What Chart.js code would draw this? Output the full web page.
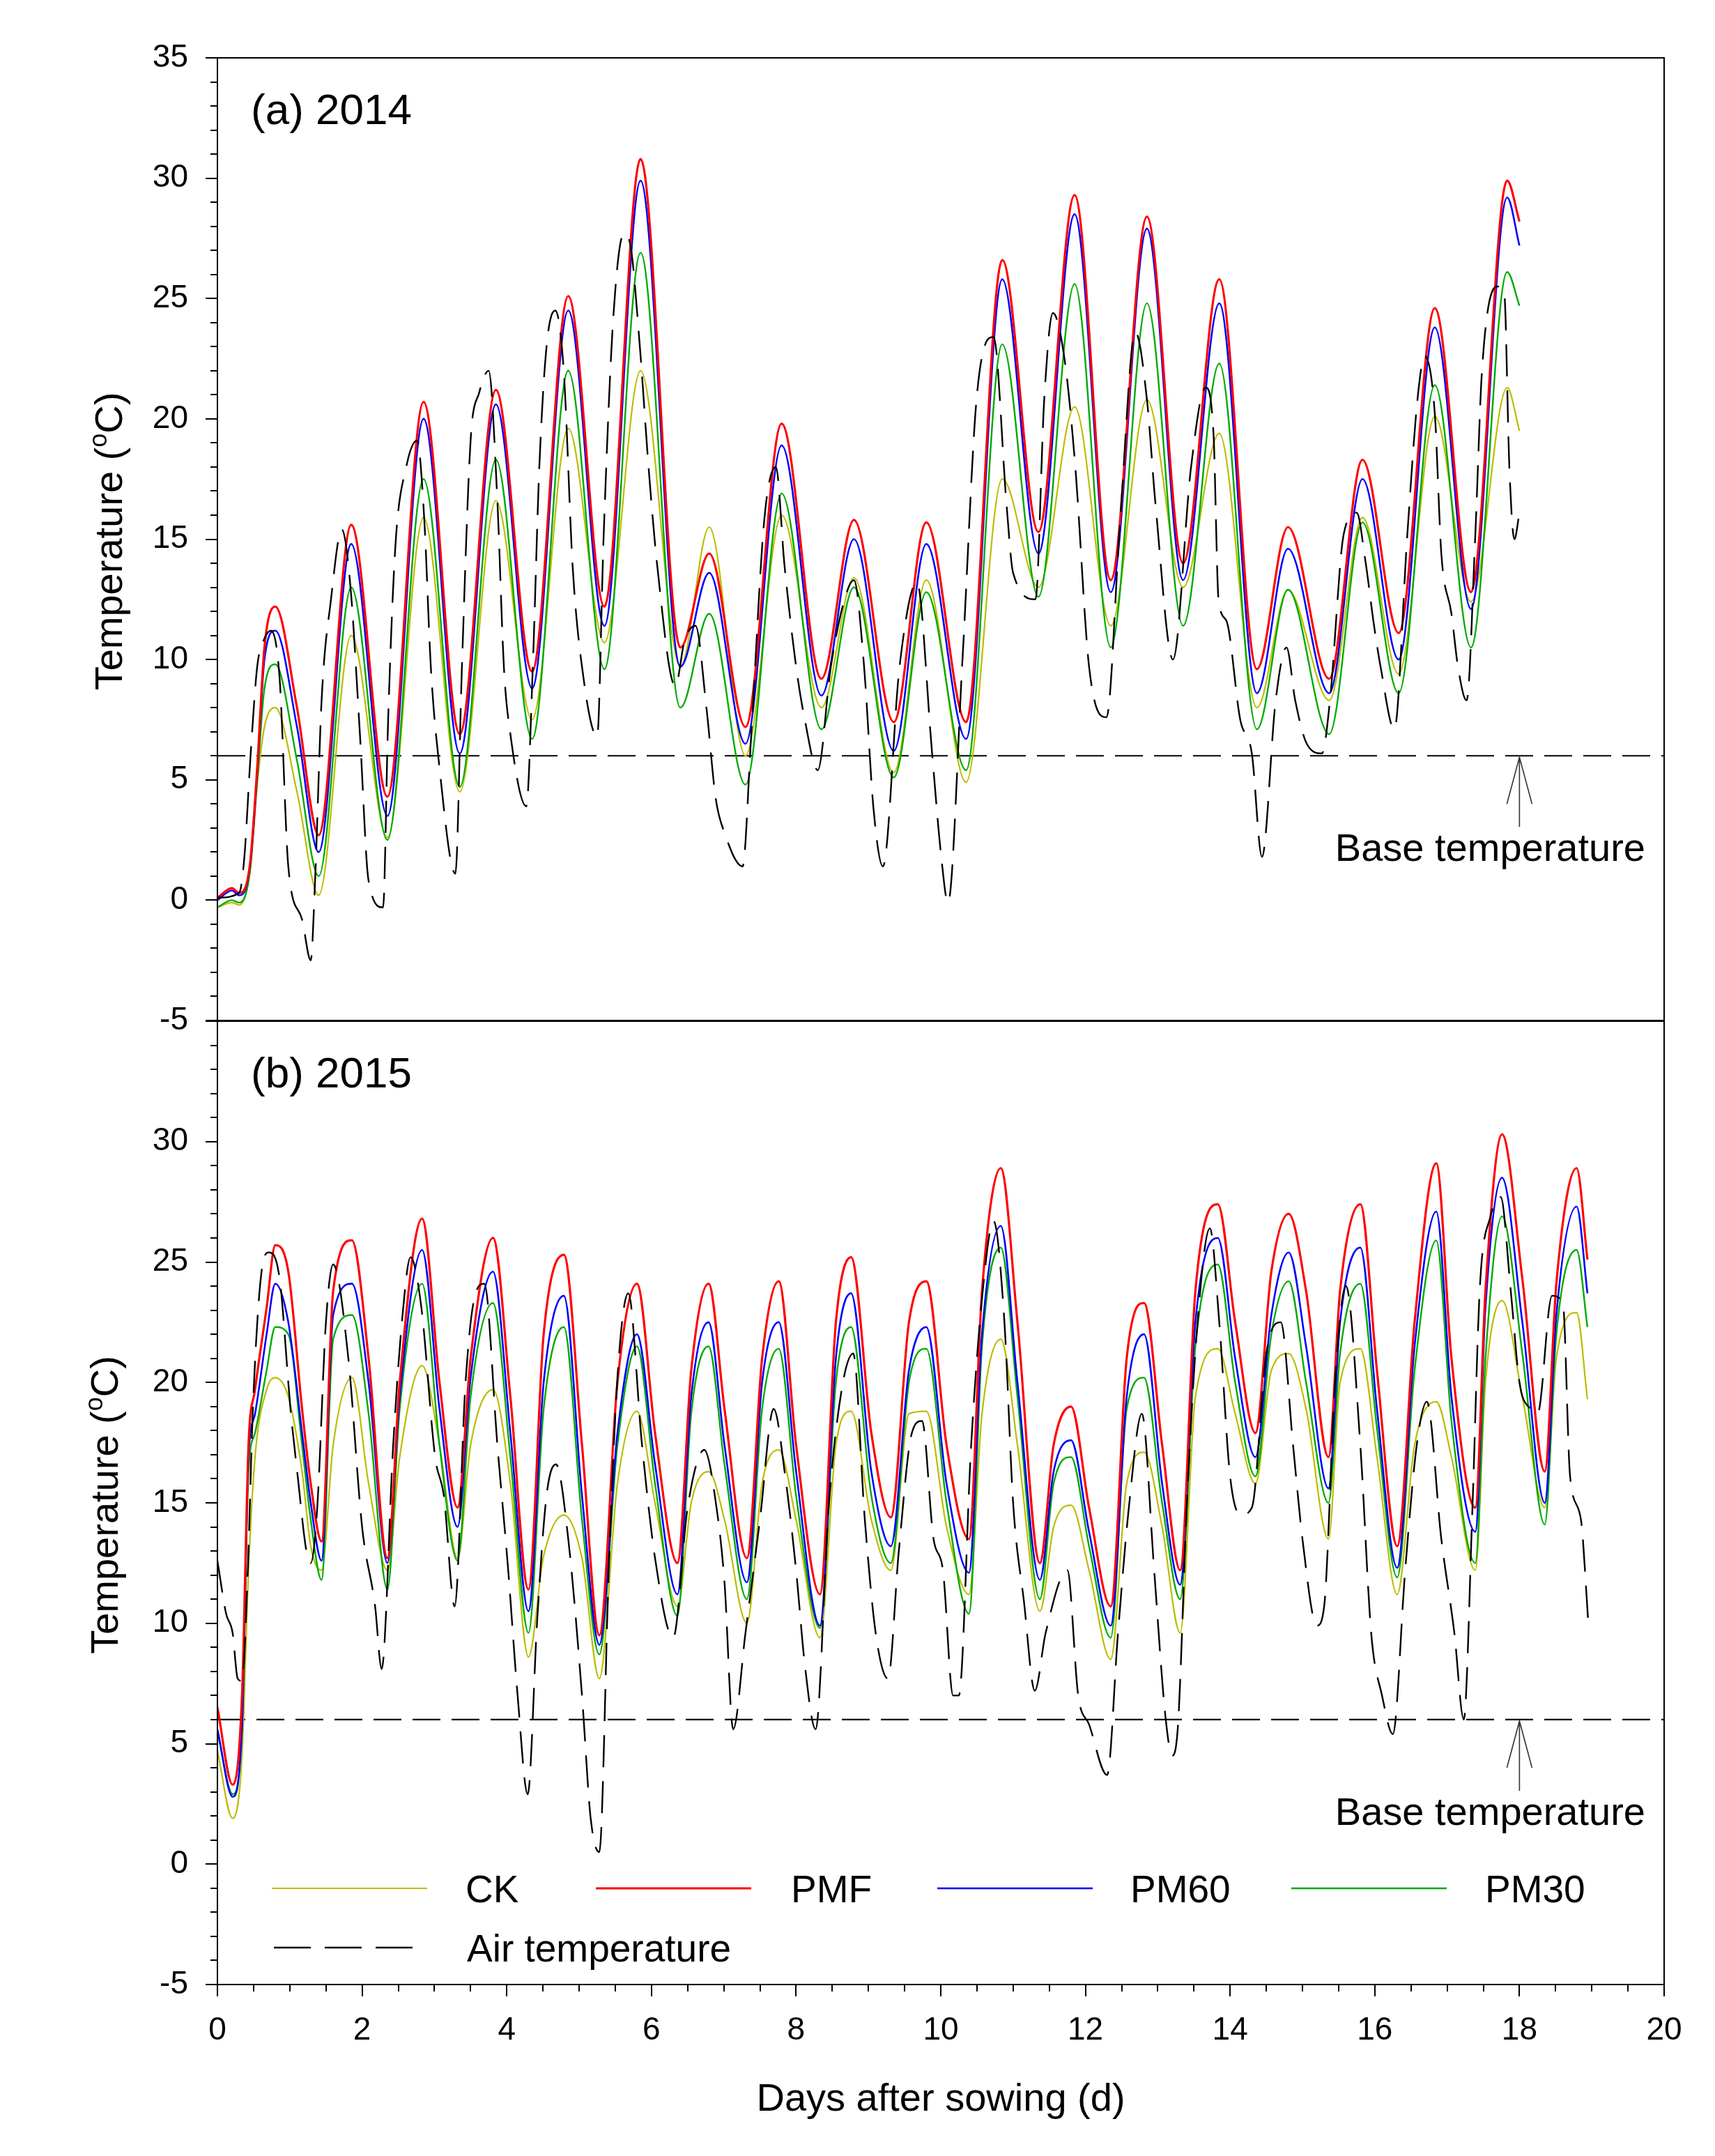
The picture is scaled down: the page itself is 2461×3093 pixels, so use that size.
<!DOCTYPE html>
<html>
<head>
<meta charset="utf-8">
<script src="https://cdn.jsdelivr.net/npm/chart.js@4.4.1/dist/chart.umd.min.js"></script>
<style>
html,body{margin:0;padding:0;background:#fff;}
#wrap{position:relative;width:2461px;height:3093px;background:#fff;overflow:hidden;}
canvas{position:absolute;left:0;}
#c1{top:0;}
#c2{top:1405px;}
</style>
</head>
<body>
<div id="wrap">
<canvas id="c1" width="2461" height="1520"></canvas>
<canvas id="c2" width="2461" height="1688"></canvas>
</div>
<script>
// ---------------- DATA ----------------
const SERIES_LABELS = ['CK', 'PMF', 'PM60', 'PM30', 'Air temperature', 'Base temperature'];
const X_TICK_STEP = 2;
const Y_TICK_STEP = 5;

// (a) 2014 soil temperatures
const SOIL_DAY_2014 = [0, 0.2, 0.3, 0.45, 0.55, 0.65, 0.8, 1.1, 1.4, 1.85,
  2.35, 2.85, 3.35, 3.85, 4.35, 4.85, 5.35, 5.85, 6.4, 6.8,
  7.3, 7.8, 8.35, 8.8, 9.35, 9.8, 10.35, 10.85, 11.35, 11.85,
  12.35, 12.85, 13.35, 13.85, 14.37, 14.8, 15.37, 15.83, 16.33, 16.83,
  17.33, 17.83, 18.0];
const PMF_2014 = [0.1, 0.5, 0.3, 1.5, 5.5, 10.5, 12.2, 8.0, 2.7, 15.6,
  4.3, 20.7, 6.9, 21.2, 9.5, 25.1, 12.2, 30.8, 10.5, 14.4,
  7.2, 19.8, 9.2, 15.8, 7.4, 15.7, 7.4, 26.6, 15.3, 29.3,
  13.3, 28.4, 14.0, 25.8, 9.6, 15.5, 9.2, 18.3, 11.1, 24.6,
  12.8, 29.9, 28.2];
const PM60_2014 = [0.0, 0.4, 0.2, 1.4, 5.3, 10.0, 11.2, 7.2, 2.0, 14.8,
  3.5, 20.0, 6.1, 20.6, 8.8, 24.5, 11.4, 29.9, 9.7, 13.6,
  6.5, 18.9, 8.5, 15.0, 6.2, 14.8, 6.7, 25.8, 14.4, 28.5,
  12.8, 27.9, 13.3, 24.8, 8.6, 14.6, 8.6, 17.5, 10.0, 23.8,
  12.1, 29.2, 27.2];
const PM30_2014 = [-0.3, 0.0, -0.1, 1.2, 5.0, 8.8, 9.8, 5.8, 1.0, 13.0,
  2.5, 17.5, 4.7, 18.3, 6.7, 22.0, 9.6, 26.9, 8.0, 11.9,
  4.8, 16.9, 7.1, 13.0, 5.1, 12.8, 5.4, 23.1, 12.6, 25.6,
  10.5, 24.8, 11.4, 22.3, 7.1, 12.9, 6.9, 15.7, 8.6, 21.4,
  10.5, 26.1, 24.7];
const CK_2014 = [-0.3, -0.1, -0.2, 1.2, 4.8, 7.2, 8.0, 4.5, 0.2, 11.0,
  2.6, 15.9, 4.5, 16.6, 7.5, 19.6, 10.7, 22.0, 9.7, 15.5,
  6.0, 16.0, 8.0, 13.4, 5.3, 13.3, 4.9, 17.5, 13.0, 20.5,
  11.4, 20.8, 13.0, 19.4, 8.0, 12.9, 8.3, 15.9, 9.4, 20.1,
  12.4, 21.3, 19.5];

// (a) 2014 air temperature
const AIR_DAY_2014 = [0, 0.3, 0.37, 0.46, 0.55, 0.64, 0.74, 0.86, 0.98, 1.17,
  1.29, 1.35, 1.44, 1.57, 1.72, 1.84, 1.97, 2.09, 2.29, 2.36,
  2.46, 2.61, 2.76, 2.86, 2.95, 3.07, 3.29, 3.38, 3.5, 3.62,
  3.75, 3.87, 3.96, 4.05, 4.27, 4.36, 4.45, 4.55, 4.67, 4.79,
  4.91, 5.04, 5.25, 5.34, 5.47, 5.62, 5.71, 5.84, 5.96, 6.08,
  6.33, 6.46, 6.61, 6.76, 6.89, 7.01, 7.26, 7.38, 7.56, 7.72,
  7.84, 8.0, 8.12, 8.3, 8.48, 8.67, 8.8, 8.94, 9.07, 9.2,
  9.43, 9.67, 9.88, 10.0, 10.1, 10.3, 10.5, 10.73, 10.91, 11.0,
  11.31, 11.43, 11.55, 11.71, 11.86, 12.05, 12.29, 12.48, 12.69, 12.85,
  12.97, 13.21, 13.46, 13.66, 13.77, 13.84, 13.95, 14.14, 14.3, 14.44,
  14.63, 14.78, 14.9, 15.06, 15.27, 15.38, 15.57, 15.75, 15.87, 15.99,
  16.08, 16.27, 16.45, 16.59, 16.69, 16.83, 16.92, 17.06, 17.15, 17.27,
  17.39, 17.48, 17.69, 17.79, 17.86, 17.93, 18.0];
const AIR_2014 = [0.1, 0.3, 1.7, 6.1, 9.7, 10.8, 11.2, 9.2, 1.4, -0.8,
  -2.5, 0.8, 8.3, 12.5, 15.4, 13.0, 6.9, 0.8, -0.3, 7.5,
  14.7, 18.0, 19.1, 15.8, 9.7, 5.5, 1.1, 9.7, 19.1, 21.1,
  22.0, 16.6, 9.7, 6.9, 3.9, 9.7, 18.0, 23.0, 24.5, 21.9,
  13.9, 9.7, 6.8, 15.2, 24.1, 27.7, 27.2, 23.0, 18.0, 13.9,
  8.9, 10.8, 11.4, 8.0, 4.2, 2.8, 1.4, 6.9, 15.8, 18.0,
  13.9, 9.7, 7.5, 5.4, 9.7, 12.5, 13.3, 9.7, 3.8, 1.4,
  9.7, 13.2, 6.1, 2.0, -0.1, 10.0, 21.0, 23.4, 16.4, 13.6,
  12.5, 20.8, 24.4, 22.5, 18.0, 9.7, 7.6, 15.8, 23.6, 20.8,
  16.4, 10.0, 18.0, 21.3, 19.4, 12.5, 11.6, 7.5, 6.1, 1.8,
  8.3, 10.5, 8.3, 6.5, 6.1, 8.3, 15.2, 16.1, 14.1, 11.4,
  9.7, 7.1, 15.2, 20.8, 22.6, 20.2, 14.4, 11.9, 9.7, 8.3,
  15.2, 21.9, 25.5, 25.2, 18.0, 15.0, 16.1];

// (b) 2015 soil temperatures
const SOIL_DAY_2015 = [0, 0.21, 0.34, 0.43, 0.52, 0.68, 0.8, 0.98, 1.17, 1.29,
  1.44, 1.6, 1.86, 2.09, 2.35, 2.52, 2.83, 3.07, 3.32, 3.5,
  3.81, 4.05, 4.3, 4.51, 4.79, 5.04, 5.28, 5.53, 5.8, 6.05,
  6.36, 6.55, 6.79, 7.01, 7.32, 7.53, 7.76, 8.0, 8.33, 8.55,
  8.76, 9.04, 9.31, 9.56, 9.8, 10.08, 10.39, 10.57, 10.83, 11.06,
  11.37, 11.56, 11.8, 12.05, 12.35, 12.57, 12.81, 13.06, 13.31, 13.52,
  13.83, 14.07, 14.35, 14.57, 14.81, 15.05, 15.36, 15.52, 15.8, 16.03,
  16.31, 16.55, 16.85, 17.06, 17.39, 17.53, 17.76, 18.04, 18.35, 18.51,
  18.79, 18.94];
const PMF_2015 = [6.5, 3.3, 7.0, 17.4, 19.7, 23.1, 25.7, 24.6, 18.9, 15.8,
  13.4, 23.8, 25.9, 21.0, 12.7, 20.0, 26.8, 20.0, 14.8, 21.0,
  26.0, 19.4, 11.4, 22.0, 25.3, 17.4, 9.5, 20.0, 24.1, 17.9,
  12.5, 20.5, 24.1, 18.9, 12.7, 21.0, 24.2, 17.4, 11.2, 22.5,
  25.2, 17.9, 14.4, 22.5, 24.2, 17.4, 13.5, 23.8, 28.9, 22.5,
  12.5, 17.4, 19.0, 14.8, 10.7, 21.0, 23.3, 17.4, 12.2, 23.8,
  27.4, 22.5, 17.9, 24.6, 27.0, 23.8, 16.9, 23.8, 27.4, 20.5,
  13.2, 22.5, 29.1, 21.0, 14.8, 23.8, 30.3, 24.3, 16.3, 24.1,
  28.9, 25.1];
const PM60_2015 = [5.6, 2.8, 5.7, 16.9, 18.7, 22.0, 24.1, 22.5, 17.9, 15.0,
  12.6, 22.8, 24.1, 20.0, 12.5, 19.4, 25.5, 18.9, 14.0, 20.2,
  24.6, 17.9, 10.5, 20.0, 23.6, 15.3, 9.1, 17.9, 22.0, 16.6,
  11.2, 19.4, 22.5, 17.4, 11.7, 20.0, 22.5, 16.3, 9.9, 21.0,
  23.7, 16.3, 13.2, 20.5, 22.3, 15.8, 12.1, 22.0, 26.5, 20.0,
  11.8, 16.3, 17.6, 13.8, 9.9, 19.4, 22.0, 15.8, 11.6, 22.5,
  26.0, 21.0, 16.9, 22.8, 25.4, 21.5, 15.6, 22.5, 25.6, 18.9,
  12.3, 21.5, 27.1, 19.4, 13.8, 23.1, 28.5, 22.5, 15.0, 22.8,
  27.3, 23.7];
const PM30_2015 = [5.5, 2.9, 5.7, 16.3, 17.9, 20.5, 22.3, 22.0, 17.4, 14.3,
  11.8, 21.8, 22.8, 18.7, 11.4, 18.9, 24.1, 17.4, 12.6, 19.4,
  23.3, 16.9, 9.6, 18.9, 22.3, 14.3, 8.7, 17.4, 21.5, 15.8,
  10.3, 18.7, 21.5, 16.6, 11.0, 18.9, 21.4, 15.3, 9.8, 20.0,
  22.3, 15.3, 12.5, 20.0, 21.4, 15.0, 10.4, 21.5, 25.6, 19.4,
  11.0, 15.8, 16.9, 13.2, 9.4, 18.9, 20.2, 15.0, 11.0, 21.5,
  24.9, 20.0, 16.1, 22.0, 24.2, 20.0, 15.0, 21.2, 24.1, 18.1,
  11.9, 20.5, 25.9, 18.4, 12.5, 21.0, 26.9, 21.2, 14.1, 22.0,
  25.5, 22.3];
const CK_2015 = [4.7, 1.9, 4.5, 12.2, 16.9, 19.7, 20.2, 19.4, 16.3, 13.2,
  12.2, 17.4, 20.2, 15.8, 12.2, 16.9, 20.7, 17.4, 12.7, 17.4,
  19.7, 15.8, 8.6, 12.8, 14.5, 12.7, 7.7, 15.8, 18.8, 15.0,
  10.7, 15.0, 16.3, 14.3, 10.0, 15.8, 17.2, 14.3, 9.4, 17.4,
  18.8, 14.3, 12.2, 18.7, 18.8, 14.0, 11.2, 18.7, 21.8, 17.4,
  10.5, 14.0, 14.9, 12.2, 8.5, 15.8, 17.1, 14.0, 9.6, 19.4,
  21.4, 18.7, 15.8, 20.5, 21.2, 18.9, 13.5, 20.0, 21.4, 16.9,
  11.2, 17.4, 19.2, 16.9, 12.2, 20.0, 23.4, 19.4, 14.8, 21.0,
  22.9, 19.3];

// (b) 2015 air temperature
const AIR_DAY_2015 = [0, 0.12, 0.21, 0.28, 0.34, 0.42, 0.49, 0.61, 0.71, 0.86,
  1.01, 1.11, 1.23, 1.29, 1.38, 1.5, 1.6, 1.81, 2.0, 2.18,
  2.27, 2.43, 2.55, 2.67, 2.82, 3.01, 3.13, 3.28, 3.43, 3.56,
  3.69, 3.87, 4.02, 4.15, 4.29, 4.42, 4.55, 4.68, 4.85, 5.04,
  5.16, 5.28, 5.41, 5.53, 5.68, 5.87, 6.05, 6.3, 6.5, 6.73,
  6.9, 7.01, 7.13, 7.3, 7.5, 7.69, 7.85, 8.0, 8.12, 8.27,
  8.45, 8.63, 8.79, 8.95, 9.1, 9.27, 9.42, 9.6, 9.74, 9.9,
  10.03, 10.17, 10.25, 10.42, 10.58, 10.73, 10.88, 11.0, 11.15, 11.3,
  11.45, 11.75, 11.9, 12.05, 12.3, 12.45, 12.6, 12.78, 12.95, 13.1,
  13.2, 13.28, 13.4, 13.55, 13.72, 13.85, 14.0, 14.15, 14.3, 14.5,
  14.7, 14.87, 15.0, 15.2, 15.3, 15.45, 15.6, 15.8, 15.95, 16.1,
  16.25, 16.42, 16.58, 16.72, 16.92, 17.1, 17.23, 17.35, 17.45, 17.6,
  17.74, 17.88, 18.0, 18.15, 18.25, 18.45, 18.6, 18.7, 18.85, 18.95];
const AIR_2015 = [12.6, 10.4, 9.6, 7.7, 7.6, 12.2, 18.9, 24.6, 25.4, 24.3,
  18.9, 16.1, 13.0, 12.5, 14.8, 22.5, 24.9, 21.0, 14.0, 10.7,
  8.1, 17.4, 22.5, 25.2, 23.1, 16.9, 15.3, 10.7, 20.0, 23.6,
  24.1, 17.4, 12.2, 7.0, 2.9, 10.1, 15.3, 16.6, 13.5, 7.0,
  1.9, 0.5, 12.2, 20.2, 23.7, 17.4, 12.7, 9.4, 14.8, 17.2,
  14.8, 11.7, 5.6, 9.6, 14.3, 18.9, 16.1, 12.2, 8.3, 5.6,
  14.8, 19.7, 21.2, 14.3, 9.6, 7.7, 13.0, 17.9, 18.4, 13.5,
  12.2, 7.0, 7.0, 17.4, 23.8, 26.7, 22.5, 15.0, 10.9, 7.2,
  9.6, 12.2, 7.0, 5.8, 3.7, 9.6, 14.8, 18.7, 12.2, 6.3,
  4.5, 5.8, 14.8, 22.5, 26.4, 22.5, 16.1, 14.5, 14.8, 21.2,
  22.5, 17.4, 13.5, 9.9, 10.7, 20.0, 24.0, 17.4, 9.6, 7.0,
  5.4, 12.2, 17.4, 19.2, 13.5, 9.6, 6.0, 14.8, 23.8, 26.9,
  27.7, 23.8, 20.0, 18.9, 18.7, 23.6, 23.3, 16.1, 14.3, 10.1];

// Base temperature reference line
const BASE_DAY = [0, 20];
const BASE_TEMP = [6, 6];
const ARROW_DAY = 18;

// ---------------- STYLE ----------------
const FONT = "'Liberation Sans', Arial, Helvetica, sans-serif";
const COLORS = { CK: '#bcbc00', PMF: '#ff0000', PM60: '#0000ff', PM30: '#00aa00', AIR: '#000000' };

function pts(xs, ys) { return xs.map((x, i) => ({ x: x, y: ys[i] })); }

function makeDatasets(soilDay, ck, pmf, pm60, pm30, airDay, air) {
  const common = { pointRadius: 0, pointHoverRadius: 0, fill: false, tension: 0.4,
    cubicInterpolationMode: 'monotone', borderJoinStyle: 'round', borderCapStyle: 'butt' };
  return [
    Object.assign({ label: SERIES_LABELS[0], data: pts(soilDay, ck), borderColor: COLORS.CK, borderWidth: 2.2, order: 4 }, common),
    Object.assign({ label: SERIES_LABELS[1], data: pts(soilDay, pmf), borderColor: COLORS.PMF, borderWidth: 3.2, order: 1 }, common),
    Object.assign({ label: SERIES_LABELS[2], data: pts(soilDay, pm60), borderColor: COLORS.PM60, borderWidth: 2.6, order: 2 }, common),
    Object.assign({ label: SERIES_LABELS[3], data: pts(soilDay, pm30), borderColor: COLORS.PM30, borderWidth: 2.4, order: 3 }, common),
    Object.assign({}, common, { label: SERIES_LABELS[4], data: pts(airDay, air), borderColor: COLORS.AIR, borderWidth: 2.4, borderDash: [46, 20], order: 0 }),
    Object.assign({}, common, { label: SERIES_LABELS[5], data: pts(BASE_DAY, BASE_TEMP), borderColor: '#000', borderWidth: 2.2,
      borderDash: [40, 16], order: 5, tension: 0, cubicInterpolationMode: 'default' })
  ];
}

// ---------------- PLUGINS ----------------
const framePlugin = {
  id: 'frame',
  afterDraw(chart, args, opts) {
    const { ctx, chartArea: a, scales } = chart;
    ctx.save();
    ctx.strokeStyle = '#000';
    ctx.lineWidth = 2;
    ctx.strokeRect(a.left, a.top, a.right - a.left, a.bottom - a.top);
    ctx.beginPath();
    const y = scales.y;
    for (let v = y.min; v <= y.max; v += 1) {
      if (v % Y_TICK_STEP === 0) continue;
      const py = Math.round(y.getPixelForValue(v));
      ctx.moveTo(a.left - 10, py); ctx.lineTo(a.left, py);
    }
    if (opts.xMinor) {
      const x = scales.x;
      for (let v = x.min; v <= x.max; v += 0.5) {
        if (v % X_TICK_STEP === 0) continue;
        const px = Math.round(x.getPixelForValue(v));
        ctx.moveTo(px, a.bottom); ctx.lineTo(px, a.bottom + 10);
      }
    }
    ctx.stroke();
    ctx.restore();
  }
};

const annotPlugin = {
  id: 'annot',
  afterDraw(chart, args, o) {
    const { ctx, chartArea: a, scales } = chart;
    ctx.save();
    ctx.fillStyle = '#000';
    // panel label
    ctx.font = '62px ' + FONT;
    ctx.textAlign = 'left';
    ctx.textBaseline = 'alphabetic';
    ctx.fillText(o.panel, a.left + 48, a.top + 95);

    // base temperature arrow + text
    const ax = scales.x.getPixelForValue(ARROW_DAY);
    const ay = scales.y.getPixelForValue(BASE_TEMP[0]) + 2;
    ctx.strokeStyle = '#333';
    ctx.lineWidth = 1.6;
    ctx.beginPath();
    ctx.moveTo(ax - 18, ay + 67); ctx.lineTo(ax, ay); ctx.lineTo(ax + 18, ay + 67);
    ctx.moveTo(ax, ay); ctx.lineTo(ax, ay + 100);
    ctx.stroke();
    ctx.font = '56px ' + FONT;
    ctx.textAlign = 'center';
    ctx.fillText('Base temperature', ax - 42, ay + 149);

    // y-axis title with superscript
    const cy = (a.top + a.bottom) / 2 + 3;
    ctx.translate(o.titleX, cy);
    ctx.rotate(-Math.PI / 2);
    ctx.textAlign = 'left';
    const big = '56px ' + FONT, small = '36px ' + FONT;
    ctx.font = big; const w1 = ctx.measureText('Temperature (').width;
    ctx.font = small; const w2 = ctx.measureText('o').width;
    ctx.font = big; const w3 = ctx.measureText('C)').width;
    let sx = -(w1 + w2 + w3) / 2;
    ctx.font = big; ctx.fillText('Temperature (', sx, 0); sx += w1;
    ctx.font = small; ctx.fillText('o', sx, -22); sx += w2;
    ctx.font = big; ctx.fillText('C)', sx, 0);
    ctx.restore();

    // legend
    if (o.legend) {
      const ds = chart.data.datasets;
      const r1 = a.bottom - 138, r2 = a.bottom - 53;
      const items = [
        { i: 0, lx: 78, len: 223, tx: 356, y: r1 },
        { i: 1, lx: 543, len: 223, tx: 823, y: r1 },
        { i: 2, lx: 1033, len: 223, tx: 1310, y: r1 },
        { i: 3, lx: 1541, len: 223, tx: 1819, y: r1 },
        { i: 4, lx: 81, len: 200, tx: 358, y: r2 }
      ];
      ctx.save();
      items.forEach(it => {
        const d = ds[it.i];
        ctx.strokeStyle = d.borderColor;
        ctx.lineWidth = d.borderWidth;
        ctx.setLineDash(it.i === 4 ? [53, 20] : []);
        ctx.beginPath();
        ctx.moveTo(a.left + it.lx, it.y); ctx.lineTo(a.left + it.lx + it.len, it.y);
        ctx.stroke();
        ctx.setLineDash([]);
        ctx.fillStyle = '#000';
        ctx.font = '55px ' + FONT;
        ctx.textAlign = 'left';
        ctx.textBaseline = 'alphabetic';
        ctx.fillText(d.label, a.left + it.tx, it.y + 20);
      });
      ctx.restore();
    }
  }
};

function yScale(hideTop) {
  return {
    type: 'linear', min: -5, max: 35,
    ticks: { stepSize: Y_TICK_STEP, color: '#000', padding: 25, font: { family: FONT, size: 46 },
      callback: (v) => (hideTop && v === 35) ? '' : String(v) },
    grid: { display: true, drawOnChartArea: false, drawTicks: true, tickLength: 17, color: '#000', lineWidth: 2 },
    border: { display: true, color: '#000', width: 2 },
    afterFit: (s) => { s.width = 312; }
  };
}

function baseOptions() {
  return {
    responsive: false, maintainAspectRatio: false, animation: false, devicePixelRatio: 1,
    events: [],
    plugins: { legend: { display: false }, tooltip: { enabled: false } }
  };
}

// ---------------- CHART (a) 2014 ----------------
const opt1 = baseOptions();
opt1.layout = { padding: { left: 0, right: 73, top: 83, bottom: 56 } };
opt1.scales = {
  x: { type: 'linear', min: 0, max: 20, display: false },
  y: yScale(false)
};
opt1.plugins.frame = { xMinor: false };
opt1.plugins.annot = { panel: '(a) 2014', titleX: 175, legend: false };

new Chart(document.getElementById('c1'), {
  type: 'line',
  data: { datasets: makeDatasets(SOIL_DAY_2014, CK_2014, PMF_2014, PM60_2014, PM30_2014, AIR_DAY_2014, AIR_2014) },
  options: opt1,
  plugins: [framePlugin, annotPlugin]
});

// ---------------- CHART (b) 2015 ----------------
const opt2 = baseOptions();
opt2.layout = { padding: { left: 0, right: 73, top: 60, bottom: 0 } };
opt2.scales = {
  x: {
    type: 'linear', min: 0, max: 20,
    ticks: { stepSize: X_TICK_STEP, color: '#000', padding: 22, font: { family: FONT, size: 46 }, maxRotation: 0, autoSkip: false },
    grid: { display: true, drawOnChartArea: false, drawTicks: true, tickLength: 17, color: '#000', lineWidth: 2 },
    border: { display: true, color: '#000', width: 2 },
    title: { display: true, text: 'Days after sowing (d)', color: '#000', font: { family: FONT, size: 56 }, padding: { top: 0, bottom: 47 } },
    afterFit: (s) => { s.height = 246; }
  },
  y: yScale(true)
};
opt2.plugins.frame = { xMinor: true };
opt2.plugins.annot = { panel: '(b) 2015', titleX: 169, legend: true };

new Chart(document.getElementById('c2'), {
  type: 'line',
  data: { datasets: makeDatasets(SOIL_DAY_2015, CK_2015, PMF_2015, PM60_2015, PM30_2015, AIR_DAY_2015, AIR_2015) },
  options: opt2,
  plugins: [framePlugin, annotPlugin]
});
</script>
</body>
</html>
